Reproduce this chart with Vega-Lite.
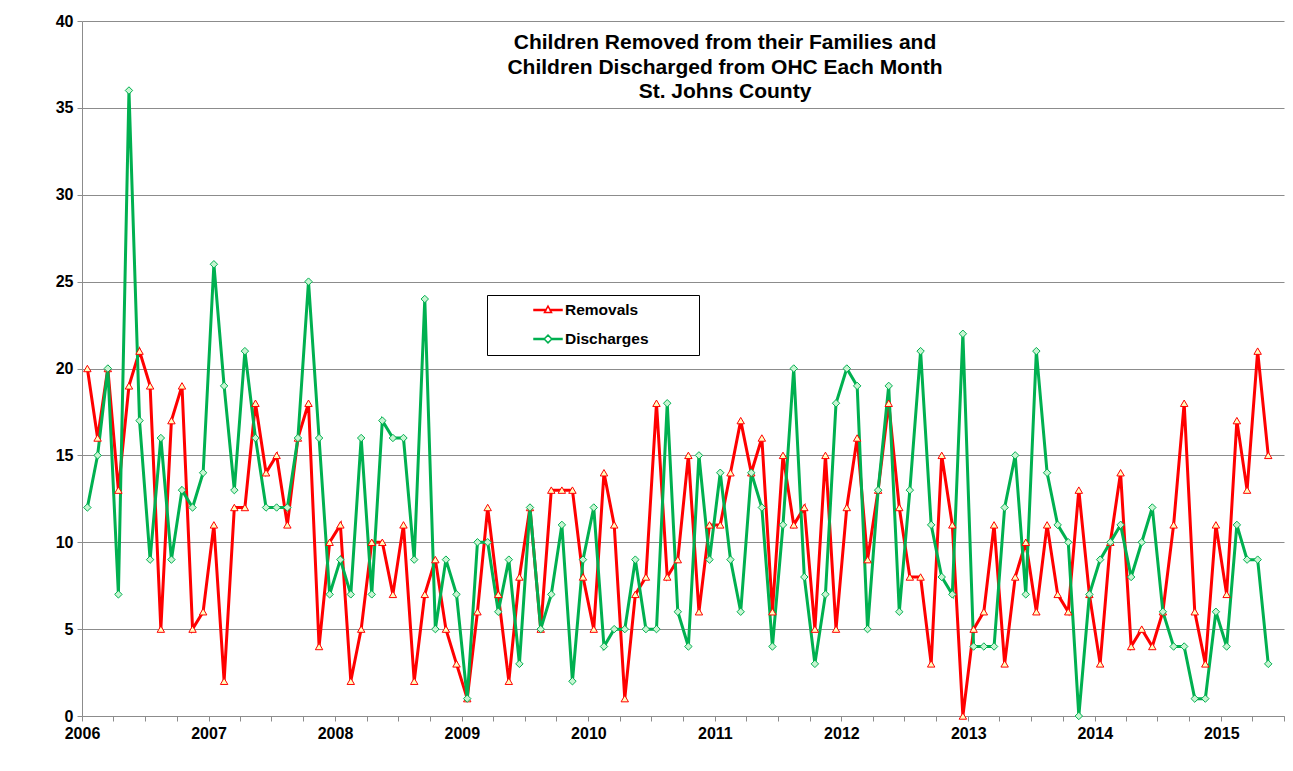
{
  "$schema": "https://vega.github.io/schema/vega-lite/v6.json",
  "width": 1202,
  "height": 695,
  "autosize": {"type": "none"},
  "padding": {"left": 82, "top": 21, "right": 9, "bottom": 55},
  "background": "white",
  "config": {"font": "Liberation Sans", "view": {"stroke": null}},
  "title": {
    "text": ["Children Removed from their Families and", "Children Discharged from OHC Each Month", "St. Johns County"],
    "font": "Liberation Sans",
    "fontSize": 21,
    "fontWeight": "bold",
    "color": "black",
    "anchor": "middle",
    "frame": "group",
    "dx": 42,
    "offset": -89,
    "lineHeight": 24.5
  },
  "data": {
    "values": [
      {"date": "2006-01", "Removals": 20, "Discharges": 12},
      {"date": "2006-02", "Removals": 16, "Discharges": 15},
      {"date": "2006-03", "Removals": 20, "Discharges": 20},
      {"date": "2006-04", "Removals": 13, "Discharges": 7},
      {"date": "2006-05", "Removals": 19, "Discharges": 36},
      {"date": "2006-06", "Removals": 21, "Discharges": 17},
      {"date": "2006-07", "Removals": 19, "Discharges": 9},
      {"date": "2006-08", "Removals": 5, "Discharges": 16},
      {"date": "2006-09", "Removals": 17, "Discharges": 9},
      {"date": "2006-10", "Removals": 19, "Discharges": 13},
      {"date": "2006-11", "Removals": 5, "Discharges": 12},
      {"date": "2006-12", "Removals": 6, "Discharges": 14},
      {"date": "2007-01", "Removals": 11, "Discharges": 26},
      {"date": "2007-02", "Removals": 2, "Discharges": 19},
      {"date": "2007-03", "Removals": 12, "Discharges": 13},
      {"date": "2007-04", "Removals": 12, "Discharges": 21},
      {"date": "2007-05", "Removals": 18, "Discharges": 16},
      {"date": "2007-06", "Removals": 14, "Discharges": 12},
      {"date": "2007-07", "Removals": 15, "Discharges": 12},
      {"date": "2007-08", "Removals": 11, "Discharges": 12},
      {"date": "2007-09", "Removals": 16, "Discharges": 16},
      {"date": "2007-10", "Removals": 18, "Discharges": 25},
      {"date": "2007-11", "Removals": 4, "Discharges": 16},
      {"date": "2007-12", "Removals": 10, "Discharges": 7},
      {"date": "2008-01", "Removals": 11, "Discharges": 9},
      {"date": "2008-02", "Removals": 2, "Discharges": 7},
      {"date": "2008-03", "Removals": 5, "Discharges": 16},
      {"date": "2008-04", "Removals": 10, "Discharges": 7},
      {"date": "2008-05", "Removals": 10, "Discharges": 17},
      {"date": "2008-06", "Removals": 7, "Discharges": 16},
      {"date": "2008-07", "Removals": 11, "Discharges": 16},
      {"date": "2008-08", "Removals": 2, "Discharges": 9},
      {"date": "2008-09", "Removals": 7, "Discharges": 24},
      {"date": "2008-10", "Removals": 9, "Discharges": 5},
      {"date": "2008-11", "Removals": 5, "Discharges": 9},
      {"date": "2008-12", "Removals": 3, "Discharges": 7},
      {"date": "2009-01", "Removals": 1, "Discharges": 1},
      {"date": "2009-02", "Removals": 6, "Discharges": 10},
      {"date": "2009-03", "Removals": 12, "Discharges": 10},
      {"date": "2009-04", "Removals": 7, "Discharges": 6},
      {"date": "2009-05", "Removals": 2, "Discharges": 9},
      {"date": "2009-06", "Removals": 8, "Discharges": 3},
      {"date": "2009-07", "Removals": 12, "Discharges": 12},
      {"date": "2009-08", "Removals": 5, "Discharges": 5},
      {"date": "2009-09", "Removals": 13, "Discharges": 7},
      {"date": "2009-10", "Removals": 13, "Discharges": 11},
      {"date": "2009-11", "Removals": 13, "Discharges": 2},
      {"date": "2009-12", "Removals": 8, "Discharges": 9},
      {"date": "2010-01", "Removals": 5, "Discharges": 12},
      {"date": "2010-02", "Removals": 14, "Discharges": 4},
      {"date": "2010-03", "Removals": 11, "Discharges": 5},
      {"date": "2010-04", "Removals": 1, "Discharges": 5},
      {"date": "2010-05", "Removals": 7, "Discharges": 9},
      {"date": "2010-06", "Removals": 8, "Discharges": 5},
      {"date": "2010-07", "Removals": 18, "Discharges": 5},
      {"date": "2010-08", "Removals": 8, "Discharges": 18},
      {"date": "2010-09", "Removals": 9, "Discharges": 6},
      {"date": "2010-10", "Removals": 15, "Discharges": 4},
      {"date": "2010-11", "Removals": 6, "Discharges": 15},
      {"date": "2010-12", "Removals": 11, "Discharges": 9},
      {"date": "2011-01", "Removals": 11, "Discharges": 14},
      {"date": "2011-02", "Removals": 14, "Discharges": 9},
      {"date": "2011-03", "Removals": 17, "Discharges": 6},
      {"date": "2011-04", "Removals": 14, "Discharges": 14},
      {"date": "2011-05", "Removals": 16, "Discharges": 12},
      {"date": "2011-06", "Removals": 6, "Discharges": 4},
      {"date": "2011-07", "Removals": 15, "Discharges": 11},
      {"date": "2011-08", "Removals": 11, "Discharges": 20},
      {"date": "2011-09", "Removals": 12, "Discharges": 8},
      {"date": "2011-10", "Removals": 5, "Discharges": 3},
      {"date": "2011-11", "Removals": 15, "Discharges": 7},
      {"date": "2011-12", "Removals": 5, "Discharges": 18},
      {"date": "2012-01", "Removals": 12, "Discharges": 20},
      {"date": "2012-02", "Removals": 16, "Discharges": 19},
      {"date": "2012-03", "Removals": 9, "Discharges": 5},
      {"date": "2012-04", "Removals": 13, "Discharges": 13},
      {"date": "2012-05", "Removals": 18, "Discharges": 19},
      {"date": "2012-06", "Removals": 12, "Discharges": 6},
      {"date": "2012-07", "Removals": 8, "Discharges": 13},
      {"date": "2012-08", "Removals": 8, "Discharges": 21},
      {"date": "2012-09", "Removals": 3, "Discharges": 11},
      {"date": "2012-10", "Removals": 15, "Discharges": 8},
      {"date": "2012-11", "Removals": 11, "Discharges": 7},
      {"date": "2012-12", "Removals": 0, "Discharges": 22},
      {"date": "2013-01", "Removals": 5, "Discharges": 4},
      {"date": "2013-02", "Removals": 6, "Discharges": 4},
      {"date": "2013-03", "Removals": 11, "Discharges": 4},
      {"date": "2013-04", "Removals": 3, "Discharges": 12},
      {"date": "2013-05", "Removals": 8, "Discharges": 15},
      {"date": "2013-06", "Removals": 10, "Discharges": 7},
      {"date": "2013-07", "Removals": 6, "Discharges": 21},
      {"date": "2013-08", "Removals": 11, "Discharges": 14},
      {"date": "2013-09", "Removals": 7, "Discharges": 11},
      {"date": "2013-10", "Removals": 6, "Discharges": 10},
      {"date": "2013-11", "Removals": 13, "Discharges": 0},
      {"date": "2013-12", "Removals": 7, "Discharges": 7},
      {"date": "2014-01", "Removals": 3, "Discharges": 9},
      {"date": "2014-02", "Removals": 10, "Discharges": 10},
      {"date": "2014-03", "Removals": 14, "Discharges": 11},
      {"date": "2014-04", "Removals": 4, "Discharges": 8},
      {"date": "2014-05", "Removals": 5, "Discharges": 10},
      {"date": "2014-06", "Removals": 4, "Discharges": 12},
      {"date": "2014-07", "Removals": 6, "Discharges": 6},
      {"date": "2014-08", "Removals": 11, "Discharges": 4},
      {"date": "2014-09", "Removals": 18, "Discharges": 4},
      {"date": "2014-10", "Removals": 6, "Discharges": 1},
      {"date": "2014-11", "Removals": 3, "Discharges": 1},
      {"date": "2014-12", "Removals": 11, "Discharges": 6},
      {"date": "2015-01", "Removals": 7, "Discharges": 4},
      {"date": "2015-02", "Removals": 17, "Discharges": 11},
      {"date": "2015-03", "Removals": 13, "Discharges": 9},
      {"date": "2015-04", "Removals": 21, "Discharges": 9},
      {"date": "2015-05", "Removals": 15, "Discharges": 3}
    ]
  },
  "transform": [{"fold": ["Removals", "Discharges"], "as": ["series", "count"]}],
  "encoding": {
    "x": {
      "field": "date",
      "type": "temporal",
      "timeUnit": "utcyearmonth",
      "bandPosition": 0.5,
      "scale": {
        "domain": [
          {"year": 2006, "month": 1, "date": 1, "utc": true},
          {"year": 2015, "month": 7, "date": 1, "utc": true}
        ]
      },
      "axis": {
        "title": null,
        "tickCount": {"interval": "month", "step": 3},
        "labelExpr": "utcmonth(datum.value) === 0 ? utcFormat(datum.value, '%Y') : ''",
        "grid": false,
        "domainColor": "#8c8c8c",
        "tickColor": "#8c8c8c",
        "tickSize": 5,
        "labelFont": "Liberation Sans",
        "labelFontSize": 16,
        "labelFontWeight": "bold",
        "labelColor": "black",
        "labelPadding": 4,
        "labelDx": 5,
        "labelFlush": false,
        "labelOverlap": false
      }
    },
    "y": {
      "field": "count",
      "type": "quantitative",
      "scale": {"domain": [0, 40]},
      "axis": {
        "title": null,
        "values": [0, 5, 10, 15, 20, 25, 30, 35, 40],
        "grid": true,
        "gridColor": "#8c8c8c",
        "gridWidth": 1,
        "domainColor": "#8c8c8c",
        "tickColor": "#8c8c8c",
        "tickSize": 5,
        "labelFont": "Liberation Sans",
        "labelFontSize": 16,
        "labelFontWeight": "bold",
        "labelColor": "black",
        "labelPadding": 4
      }
    }
  },
  "layer": [
    {
      "mark": {"type": "line", "strokeWidth": 3},
      "encoding": {
        "color": {
          "field": "series",
          "type": "nominal",
          "scale": {"domain": ["Removals", "Discharges"], "range": ["#FF0000", "#00B050"]},
          "legend": {
            "orient": "none",
            "legendX": 405,
            "legendY": 274,
            "title": "MMM",
            "titleOrient": "left",
            "titleOpacity": 0,
            "titleFontSize": 16,
            "titleFontWeight": "bold",
            "titlePadding": 6,
            "direction": "vertical",
            "strokeColor": "black",
            "fillColor": "white",
            "padding": 7,
            "labelFont": "Liberation Sans",
            "labelFontSize": 15.5,
            "labelFontWeight": "bold",
            "labelColor": "black",
            "symbolSize": 196,
            "symbolStrokeWidth": 1.5,
            "symbolOpacity": 1,
            "rowPadding": 12,
            "labelOffset": 9,
            "labelLimit": 300,
            "labelExpr": "datum.label + '\u00a0\u00a0\u00a0\u00a0\u00a0\u00a0\u00a0\u00a0\u00a0\u00a0\u200b'"
          }
        }
      }
    },
    {
      "mark": {"type": "point", "opacity": 0, "filled": false, "strokeWidth": 1},
      "encoding": {
        "color": {"field": "series", "type": "nominal"},
        "shape": {
          "field": "series",
          "type": "nominal",
          "scale": {
            "domain": ["Removals", "Discharges"],
            "range": [
              "M-2,-0.07L-0.3,-0.07L-0.3,0.07L-2,0.07Z M0.3,-0.07L2,-0.07L2,0.07L0.3,0.07Z M0,-0.55L0.5,0.35L-0.5,0.35Z",
              "M-2,-0.07L-0.55,-0.07L-0.55,0.07L-2,0.07Z M0.55,-0.07L2,-0.07L2,0.07L0.55,0.07Z M0,-0.55L0.55,0L0,0.55L-0.55,0Z"
            ]
          }
        },
        "fill": {"field": "series", "type": "nominal", "scale": {"domain": ["Removals", "Discharges"], "range": ["#FFFFC0", "#C8F5D2"]}}
      }
    },
    {
      "transform": [{"filter": "datum.series === 'Removals'"}],
      "mark": {"type": "point", "shape": "triangle-up", "size": 55, "filled": true, "fill": "#FFFFC0", "stroke": "#FF0000", "strokeWidth": 1, "opacity": 1}
    },
    {
      "transform": [{"filter": "datum.series === 'Discharges'"}],
      "mark": {"type": "point", "shape": "diamond", "size": 55, "filled": true, "fill": "#C8F5D2", "stroke": "#00B050", "strokeWidth": 1, "opacity": 1}
    }
  ]
}
